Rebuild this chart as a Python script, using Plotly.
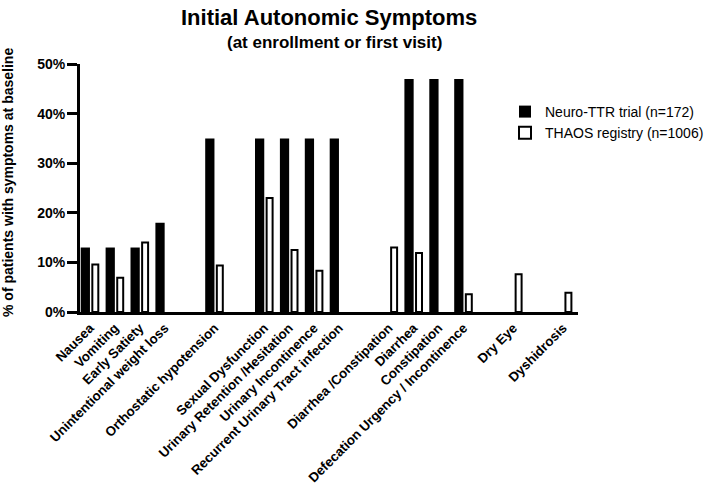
import plotly.graph_objects as go

# --- data -----------------------------------------------------------------
groups = [
    ["Nausea", "Vomiting", "Early Satiety", "Unintentional weight loss"],
    ["Orthostatic hypotension"],
    ["Sexual Dysfunction", "Urinary Retention /Hesitation", "Urinary Incontinence",
     "Recurrent Urinary Tract infection"],
    ["Diarrhea /Constipation", "Diarrhea", "Constipation",
     "Defecation Urgency / Incontinence"],
    ["Dry Eye"],
    ["Dyshidrosis"],
]
neuro_ttr = [13, 13, 13, 18, 35, 35, 35, 35, 35, None, 47, 47, 47, None, None]
thaos = [9.6, 6.9, 14, None, 9.4, 23, 12.5, 8.3, None, 13, 11.9, None, 3.6, 7.6, 3.9]
y_ticks = [0, 10, 20, 30, 40, 50]

# --- positions derived from the groups (one empty slot between groups) ------
categories, xpos = [], []
slot = 0
for g in groups:
    for c in g:
        categories.append(c)
        xpos.append(slot)
        slot += 1
    slot += 1
last_slot = xpos[-1]

FONT = "Liberation Sans, Arial, sans-serif"
L, R, T, B = 80, 578, 64, 312
PW, PH = R - L, B - T

fig = go.Figure()
fig.add_trace(go.Bar(
    x=xpos, y=neuro_ttr, name="Neuro-TTR trial (n=172)",
    marker=dict(color="black", line=dict(color="black", width=0)),
    width=0.372, offset=-0.372, hoverinfo="skip",
))
fig.add_trace(go.Bar(
    x=xpos, y=thaos, name="THAOS registry (n=1006)",
    marker=dict(color="white", line=dict(color="black", width=2)),
    width=0.24, offset=0.095, hoverinfo="skip",
))

fig.update_layout(
    width=708, height=484,
    margin=dict(l=L, r=708 - R, t=T, b=484 - B, autoexpand=False),
    paper_bgcolor="white", plot_bgcolor="white",
    font=dict(family=FONT, color="black"),
    barmode="overlay",
    showlegend=True,
    legend=dict(x=(505 - L) / PW, y=(B - 96) / PH, xanchor="left", yanchor="top",
                font=dict(size=14, family=FONT),
                bgcolor="rgba(0,0,0,0)"),
    annotations=[
        dict(text="<b>Initial Autonomic Symptoms</b>", xref="paper", yref="paper",
             x=(329 - L) / PW, y=(B - 18) / PH, xanchor="center", yanchor="middle",
             showarrow=False, font=dict(size=22, family=FONT)),
        dict(text="<b>(at enrollment or first visit)</b>", xref="paper", yref="paper",
             x=(334 - L) / PW, y=(B - 43) / PH, xanchor="center", yanchor="middle",
             showarrow=False, font=dict(size=17, family=FONT)),
        dict(text="<b>% of patients with symptoms at baseline</b>", xref="paper",
             yref="paper", x=(8 - L) / PW, y=(B - 183) / PH, xanchor="center",
             yanchor="middle", textangle=-90, showarrow=False,
             font=dict(size=14, family=FONT)),
    ],
)

fig.update_xaxes(
    range=[-0.4, last_slot + 0.6],
    tickmode="array", tickvals=xpos,
    ticktext=[f"<b>{c}</b>" for c in categories],
    tickangle=-45, ticks="", tickfont=dict(size=13.3, family=FONT),
    showline=True, linecolor="black", linewidth=3,
    showgrid=False, zeroline=False, automargin=False,
)
fig.update_yaxes(
    range=[0, 50], tickmode="array", tickvals=y_ticks,
    ticktext=[f"<b>{v}%</b>" for v in y_ticks],
    ticks="outside", ticklen=10, tickwidth=3, tickcolor="black",
    ticklabelstandoff=-1,
    tickfont=dict(size=14, family=FONT),
    showline=True, linecolor="black", linewidth=3,
    showgrid=False, zeroline=False, automargin=False,
)

fig.write_html("out.html", config={"displayModeBar": False},
               post_script="document.body.style.margin='0px';")
